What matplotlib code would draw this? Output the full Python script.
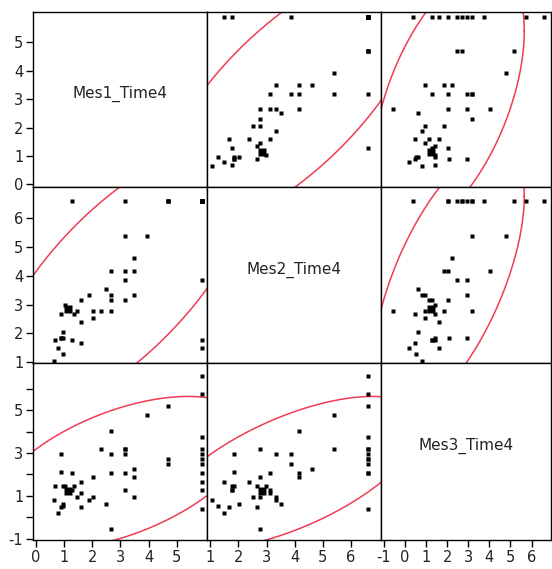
import numpy as np
import matplotlib.pyplot as plt

plt.rcParams['axes.unicode_minus'] = False
plt.rcParams['font.family'] = 'DejaVu Sans'

names = ['Mes1_Time4', 'Mes2_Time4', 'Mes3_Time4']

# one entry per row of the table
mes1 = [1.27, 3.18, 4.70, 4.70, 4.70, 5.91, 5.91, 5.91, 5.91, 5.91, 5.91, 5.91, 5.91,
        3.18, 3.93, 3.49, 2.67, 3.18, 3.49, 3.18, 5.91, 2.50, 1.89, 2.67, 3.49,
        1.59, 2.67, 3.18, 1.04, 1.15, 1.46, 2.04, 2.31, 2.67, 0.91, 1.36, 2.04,
        1.59, 0.96, 0.91, 0.91, 0.96, 0.69, 1.27, 1.59, 5.91, 0.78, 5.91, 0.96, 0.64]
mes2 = [6.59, 6.59, 6.59, 6.59, 6.59, 6.59, 6.59, 6.59, 6.59, 6.59, 6.59, 6.59, 6.59,
        5.38, 5.38, 4.62, 4.17, 4.17, 4.17, 3.86, 3.86, 3.53, 3.33, 3.33, 3.33,
        3.14, 3.14, 3.14, 2.97, 2.85, 2.78, 2.78, 2.78, 2.78, 2.66, 2.66, 2.52,
        2.39, 2.03, 1.84, 1.84, 1.84, 1.76, 1.76, 1.67, 1.76, 1.49, 1.49, 1.27, 1.05]
mes3 = [2.05, 3.20, 5.19, 2.72, 2.47, 6.59, 5.75, 3.75, 3.20, 2.96, 2.72, 2.05, 0.37,
        3.20, 4.78, 2.24, 4.05, 2.05, 1.86, 2.96, 2.47, 0.60, 0.79, 2.96, 0.96,
        1.13, 2.05, 1.28, 1.44, 1.24, 0.96, 1.86, 3.20, -0.54, 0.49, 1.44, 0.96,
        1.63, 0.60, 2.96, 2.11, 1.44, 1.44, 1.28, 0.49, 1.28, 0.18, 1.63, 0.51, 0.79]

selected = 29  # row drawn with the big marker

x_ticks = [[0, 1, 2, 3, 4, 5], [1, 2, 3, 4, 5, 6], [-1, 0, 1, 2, 3, 4, 5, 6]]
y_ticks = [[0, 1, 2, 3, 4, 5], [1, 2, 3, 4, 5, 6], [-1, 0, 1, 2, 3, 4, 5, 6]]

# panel geometry (pixels) and axis ranges
W, H = 552, 569
col_edges = [33, 207, 381, 551]
row_edges = [12, 187, 363, 540]
xlims = [(-0.10, 6.07), (0.89, 7.06), (-1.13, 6.92)]
ylims = [(-0.09, 6.07), (0.97, 7.08), (-1.07, 7.22)]

RED = '#f03c55'
data = np.array([mes1, mes2, mes3])
level = -2 * np.log(1 - 0.95)  # 95% density ellipse


def ellipse(xv, yv):
    mu = np.array([xv.mean(), yv.mean()])
    cov = np.cov(xv, yv)
    L = np.linalg.cholesky(cov)
    t = np.linspace(0, 2 * np.pi, 400)
    pts = mu[:, None] + np.sqrt(level) * L @ np.vstack([np.cos(t), np.sin(t)])
    return pts[0], pts[1]


fig = plt.figure(figsize=(W / 100, H / 100), dpi=100)

for i in range(3):
    for j in range(3):
        x0, x1 = col_edges[j], col_edges[j + 1]
        y0, y1 = row_edges[i], row_edges[i + 1]
        ax = fig.add_axes([x0 / W, 1 - y1 / H, (x1 - x0) / W, (y1 - y0) / H])
        ax.set_xlim(*xlims[j])
        ax.set_ylim(*ylims[i])
        for s in ax.spines.values():
            s.set_linewidth(1.0)
            s.set_color('black')

        if i == j:
            ax.text(0.5, 0.53, names[i], transform=ax.transAxes, ha='center', va='center',
                    fontsize=11, color='#222222')
        else:
            xv, yv = data[j], data[i]
            ex, ey = ellipse(xv, yv)
            ax.plot(ex, ey, color=RED, lw=1.1)
            mask = np.arange(len(xv)) != selected
            ax.plot(xv[mask], yv[mask], 's', ms=2.2, color='black', mec='none')
            ax.plot(xv[selected], yv[selected], 's', ms=5.5, color='black', mec='none')

        ax.tick_params(direction='out', length=5, width=1, labelsize=10.5,
                       labelcolor='#222222', pad=2)
        if i == 2:
            ax.set_xticks(x_ticks[j])
        else:
            ax.set_xticks([])
        if j == 0:
            ax.set_yticks(y_ticks[i])
            if i == 2:
                ax.set_yticklabels([str(v) if v % 2 else '' for v in y_ticks[i]])
        else:
            ax.set_yticks([])

fig.savefig('out.png', dpi=100)
